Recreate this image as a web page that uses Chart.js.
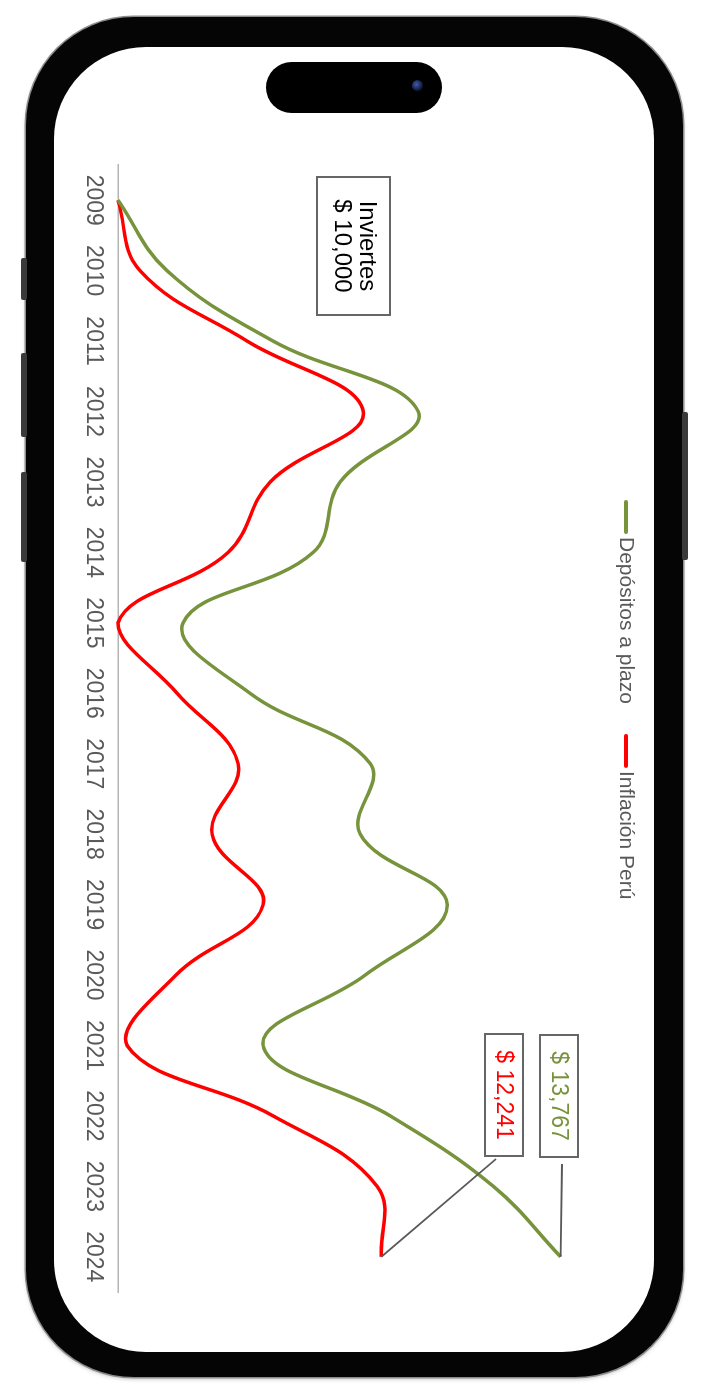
<!DOCTYPE html>
<html><head><meta charset="utf-8">
<script src="https://cdn.jsdelivr.net/npm/chart.js@4.4.1/dist/chart.umd.min.js"></script>
<style>
html,body{margin:0;padding:0;background:#fff;width:703px;height:1394px;overflow:hidden;position:relative}
.phone{position:absolute;left:26px;top:17px;width:657px;height:1360px;border-radius:108px;background:#050505;box-shadow:0 0 0 1.5px #8c8c8c,0 2px 4px rgba(0,0,0,.25)}
.screen{position:absolute;left:54px;top:47px;width:600px;height:1305px;border-radius:92px;background:#fff}
.island{position:absolute;left:266px;top:62px;width:176px;height:51px;border-radius:26px;background:#000}
.cam{position:absolute;left:412px;top:80px;width:11px;height:11px;border-radius:50%;background:radial-gradient(circle at 40% 40%,#3d5bb0,#0b1330 70%)}
.btn{position:absolute;background:#3a3a3a;border-radius:2px}
#wrap{position:absolute;left:0;top:0;width:1160px;height:590px;transform-origin:0 0;transform:translate(650px,150px) rotate(90deg)}
</style></head><body>
<div class="phone"></div>
<div class="btn" style="left:21px;top:258px;width:6px;height:42px"></div>
<div class="btn" style="left:21px;top:353px;width:6px;height:84px"></div>
<div class="btn" style="left:21px;top:472px;width:6px;height:90px"></div>
<div class="btn" style="left:682px;top:412px;width:6px;height:148px"></div>
<div class="screen"></div>
<div class="island"></div>
<div class="cam"></div>
<div id="wrap"><canvas id="c" width="1160" height="590"></canvas></div>
<script>
const years = ['2009','2010','2011','2012','2013','2014','2015','2016','2017','2018','2019','2020','2021','2022','2023','2024'];
const depositos = [10000,10417,11320,12555,11891,11661,10554,11124,12147,12061,12802,12104,11235,12317,13194,13767];
const inflacion = [10000,10187,11099,12087,11295,10937,10000,10503,11022,10801,11235,10494,10077,11320,12206,12241];
const seriesNames = ['Depósitos a plazo','Inflación Perú'];
const seriesColors = ['#77933C','#FF0000'];
const startLines = ['Inviertes','$ 10,000'];
const valueMin = 10000, valueMax = 14000;

const FONT = '"Liberation Sans", Arial, sans-serif';
const fmt = v => '$ ' + v.toLocaleString('en-US');

function box(ctx, x, y, w, h){
  ctx.strokeStyle = '#666666'; ctx.lineWidth = 2;
  ctx.strokeRect(x, y, w, h);
}

const overlay = {
  id: 'overlay',
  afterDatasetsDraw(chart){
    const ctx = chart.ctx;
    ctx.save();
    // legend
    ctx.font = '21px ' + FONT;
    ctx.textBaseline = 'middle';
    ctx.textAlign = 'left';
    let u = 350; const lv = 24;
    chart.data.datasets.forEach(ds => {
      ctx.strokeStyle = ds.borderColor; ctx.lineWidth = 4; ctx.lineCap = 'round';
      ctx.beginPath(); ctx.moveTo(u + 2, lv); ctx.lineTo(u + 32, lv); ctx.stroke();
      u += 37;
      ctx.fillStyle = '#595959';
      ctx.fillText(ds.label, u, lv);
      u += ctx.measureText(ds.label).width + 30;
    });
    ctx.lineCap = 'butt';
    // start box
    box(ctx, 27, 260, 138, 73);
    ctx.fillStyle = '#000';
    ctx.textAlign = 'center';
    ctx.font = '24px ' + FONT;
    ctx.fillText(startLines[0], 96, 283);
    ctx.fillText(startLines[1], 96, 308);
    // end labels
    const g = chart.getDatasetMeta(0).data[years.length - 1];
    const r = chart.getDatasetMeta(1).data[years.length - 1];
    ctx.strokeStyle = '#595959'; ctx.lineWidth = 1.8;
    ctx.beginPath(); ctx.moveTo(1009, 154); ctx.lineTo(r.x, r.y); ctx.stroke();
    ctx.beginPath(); ctx.moveTo(1014, 88); ctx.lineTo(g.x, g.y); ctx.stroke();
    box(ctx, 884, 127, 122, 38);
    box(ctx, 885, 72, 122, 38);
    ctx.font = '23px ' + FONT;
    ctx.fillStyle = seriesColors[1];
    ctx.fillText(fmt(inflacion[inflacion.length - 1]), 945, 147);
    ctx.fillStyle = seriesColors[0];
    ctx.fillText(fmt(depositos[depositos.length - 1]), 946, 92);
    ctx.restore();
  }
};

new Chart(document.getElementById('c'), {
  type: 'line',
  data: {
    labels: years,
    datasets: [
      {label: seriesNames[0], data: depositos, borderColor: seriesColors[0], backgroundColor: seriesColors[0], borderWidth: 3.5, pointRadius: 0, tension: 0.4, clip: false},
      {label: seriesNames[1], data: inflacion, borderColor: seriesColors[1], backgroundColor: seriesColors[1], borderWidth: 3.5, pointRadius: 0, tension: 0.4, clip: false}
    ]
  },
  options: {
    responsive: false,
    animation: false,
    devicePixelRatio: 1,
    layout: {padding: {top: 62, left: 15, right: 18, bottom: 0}},
    plugins: {legend: {display: false}, tooltip: {enabled: false}},
    scales: {
      x: {
        offset: true,
        grid: {display: false, drawTicks: false},
        border: {display: true, color: '#b4b4b4', width: 1.5},
        ticks: {color: '#595959', font: {family: FONT, size: 23}, padding: 11, maxRotation: 0, autoSkip: false},
        afterFit: s => { s.height = 58; }
      },
      y: {display: false, min: valueMin, max: valueMax}
    }
  },
  plugins: [overlay]
});
</script>
</body></html>
